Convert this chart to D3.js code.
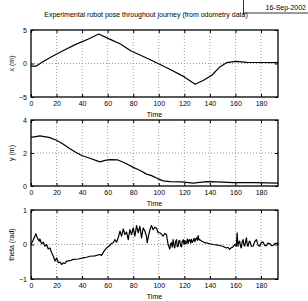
<!DOCTYPE html>
<html>
<head>
<meta charset="utf-8">
<script src="https://cdn.jsdelivr.net/npm/d3@7"></script>
<style>
  body { margin: 0; background: #fff; }
  text { font-family: "Liberation Sans", Arial, sans-serif; fill: #000; }
</style>
</head>
<body>
<script>
// time axis shared by all three panels
const timeTicks = [0, 20, 40, 60, 80, 100, 120, 140, 160, 180];
const timeMax = 193.3;

// x (m) against time
const timeX = [0, 4, 8, 15, 25, 35, 45, 53, 62, 70, 78, 93, 109, 120, 128.5, 135, 141.5, 148, 153, 160.5, 169, 180, 193.5];
const poseX = [-0.4, -0.4, 0.1, 0.9, 1.9, 2.85, 3.65, 4.4, 3.6, 2.9, 1.9, 0.6, -0.9, -2.0, -3.1, -2.5, -1.75, -0.47, 0.12, 0.33, 0.18, 0.15, 0.12];
const ticksX = [-5, 0, 5];

// y (m) against time
const timeY = [0, 7, 14, 20, 25, 30.5, 35, 39.7, 46, 54, 58, 62, 68, 74, 80, 85, 90.5, 94.4, 99, 103.5, 108.8, 118, 127, 132, 137.5, 145.3, 158, 175, 193.5];
const poseY = [2.95, 3.04, 2.95, 2.77, 2.55, 2.26, 2.05, 1.85, 1.68, 1.46, 1.55, 1.6, 1.58, 1.38, 1.13, 0.95, 0.72, 0.63, 0.45, 0.31, 0.27, 0.25, 0.18, 0.22, 0.27, 0.25, 0.2, 0.2, 0.18];
const ticksY = [0, 2, 4];

const timeTheta = [0, 1.8, 3.9, 4.9, 6.5, 7.0, 8.3, 9.6, 10.9, 12.2, 13.5, 14.8, 16.2, 17.5, 18.8, 20.1, 21.4, 22.7, 24.0, 25.3, 26.6, 27.9, 30.5, 33.1, 37, 40.9, 43.5, 46.1, 50, 53.9, 55.2, 57, 59.1, 61, 63.0, 64.3, 65.7, 67.0, 68.3, 69.6, 70.9, 72.2, 73.5, 74.8, 76.1, 77.4, 78.7, 80.0, 81.3, 82.6, 83.9, 85.2, 86.5, 87.8, 89.1, 90.4, 90.9, 92.2, 93.3, 94.3, 95.6, 96.9, 98.2, 99.5, 100.8, 102.1, 103.4, 104.7, 106.0, 107.3,
  108.6, 109.3, 109.9, 110.5, 111.2, 111.8, 112.5, 113.1, 113.8, 114.5, 115.2, 115.8, 116.5, 117.1, 117.8, 118.4, 119.1, 119.8, 120.4, 121.1, 121.7, 122.4, 123.0, 123.7, 124.3, 125.0, 125.6, 126.3, 126.9, 127.6, 128.2, 128.9, 129.5, 130.2, 130.8, 131.5, 132.1, 133.4, 134.7, 136, 137.3, 140, 142.5, 145, 147.7, 150, 152.9, 154.2, 155.5, 156.8, 158.1, 159.4, 160.7, 161.3, 162.0, 162.6, 163.3, 164.0, 164.6, 165.3, 166.0, 166.6, 167.3, 168.0, 168.6, 169.3, 169.9, 170.6, 171.2, 172.5, 173.8, 175.1, 176.4, 177.7, 179.0, 180.3, 181.6, 182.9, 184.2, 185.5, 186.8, 188.1, 189.4, 191, 193.8];
const theta = [0, 0.14, 0.31, 0.19, 0.10, 0.16, 0.02, 0.07, -0.05, 0, -0.13, -0.10, -0.24, -0.34, -0.48, -0.39, -0.53, -0.51, -0.58, -0.53, -0.55, -0.48, -0.47, -0.43, -0.42, -0.39, -0.37, -0.34, -0.33, -0.29, -0.32, -0.2, -0.10, -0.05, 0.03, 0.05, 0.14, 0.07, 0.2, 0.39, 0.24, 0.45, 0.29, 0.36, 0.14, 0.43, 0.29, 0.48, 0.24, 0.55, 0.34, 0.53, 0.19, 0.48, 0.39, 0.24, 0.05, 0.29, 0.45, 0.55, 0.43, 0.5, 0.48, 0.34, 0.34, 0.3, 0.24, 0.32, 0.29, 0,
  -0.13, 0.02, 0.05, -0.08, 0.14, -0.02, -0.10, 0.08, 0.14, -0.06, -0.05, 0.12, 0.10, -0.04, -0.07, 0.09, 0.14, 0.0, 0.12, 0.02, 0.05, 0.16, 0.03, 0.13, 0.14, 0.04, 0.15, 0.06, 0.10, 0.18, 0.08, 0.16, 0.19, 0.12, 0.26, 0.13, 0.14, 0.10, 0.08, 0.05, 0.05, 0.02, 0, -0.01, -0.03, -0.05, -0.10, -0.08, -0.14, -0.09, -0.07, 0, -0.05, 0.34, -0.05, 0.06, 0.10, -0.06, -0.10, 0.08, 0.14, -0.02, -0.05, 0.10, 0.19, -0.03, -0.05, 0.07, 0.10, -0.05, -0.05, 0.08, 0.14, -0.02, -0.05, 0.06, 0.07, -0.03, -0.03, 0.04, 0.03, -0.03, -0.03, 0.03, 0.03];
const ticksTheta = [-1, 0, 1];

const titleText = "Experimental robot pose throughout journey (from odometry data)";
const dateText = "16-Sep-2002";

const W = 308, H = 301;
const svg = d3.select("body").append("svg").attr("width", W).attr("height", H);

const xScale = d3.scaleLinear().domain([0, timeMax]).range([31, 278]);

let panels = [
  { t: timeX, v: poseX, ticks: ticksX, label: "x (m)", top: 30, bottom: 97 },
  { t: timeY, v: poseY, ticks: ticksY, label: "y (m)", top: 120, bottom: 186 },
  { t: timeTheta, v: theta, ticks: ticksTheta, label: "theta (rad)", top: 210, bottom: 279 }
];

function drawPanel(p) {
  let y = d3.scaleLinear().domain([p.ticks[0], p.ticks[p.ticks.length - 1]]).range([p.bottom, p.top]);
  let g = svg.append("g");

  // dotted grid
  g.selectAll(".gx").data(timeTicks.slice(1)).enter().append("line")
    .attr("x1", d => xScale(d)).attr("x2", d => xScale(d))
    .attr("y1", p.top).attr("y2", p.bottom)
    .attr("stroke", "#999").attr("stroke-width", 1).attr("stroke-dasharray", "1,2");
  g.selectAll(".gy").data(p.ticks.slice(1, -1)).enter().append("line")
    .attr("x1", xScale.range()[0]).attr("x2", xScale.range()[1])
    .attr("y1", d => y(d)).attr("y2", d => y(d))
    .attr("stroke", "#999").attr("stroke-width", 1).attr("stroke-dasharray", "1,2");

  // the data line
  let pts = p.t.map((t, i) => [t, p.v[i]]);
  g.append("path").datum(pts)
    .attr("d", d3.line().x(d => xScale(d[0])).y(d => y(d[1])))
    .attr("fill", "none").attr("stroke", "#000").attr("stroke-width", 1.2)
    .attr("stroke-linejoin", "round");

  // axes, matlab style ticks pointing in
  g.append("g").attr("transform", "translate(0," + p.bottom + ")")
    .call(d3.axisBottom(xScale).tickValues(timeTicks).tickSize(-3).tickPadding(4));
  g.append("g").attr("transform", "translate(0," + p.top + ")")
    .call(d3.axisTop(xScale).tickValues(timeTicks).tickSize(-3).tickFormat(""));
  g.append("g").attr("transform", "translate(" + xScale.range()[0] + ",0)")
    .call(d3.axisLeft(y).tickValues(p.ticks).tickSize(-3).tickPadding(4).tickFormat(d => d < 0 ? "\u2212" + Math.abs(d) : d));
  g.append("g").attr("transform", "translate(" + xScale.range()[1] + ",0)")
    .call(d3.axisRight(y).tickValues(p.ticks).tickSize(-3).tickFormat(""));
  g.selectAll(".domain").remove();
  g.selectAll(".tick line").attr("stroke", "#000");
  g.selectAll(".tick text").attr("font-size", 7).attr("font-family", "Liberation Sans, Arial, sans-serif");

  // box
  g.append("rect")
    .attr("x", xScale.range()[0]).attr("y", p.top)
    .attr("width", xScale.range()[1] - xScale.range()[0]).attr("height", p.bottom - p.top)
    .attr("fill", "none").attr("stroke", "#000").attr("stroke-width", 1.3);

  g.append("text").attr("x", (xScale.range()[0] + xScale.range()[1]) / 2).attr("y", p.bottom + 20)
    .attr("text-anchor", "middle").attr("font-size", 7).text("Time");
  g.append("text")
    .attr("transform", "translate(14," + (p.top + p.bottom) / 2 + ") rotate(-90)")
    .attr("text-anchor", "middle").attr("font-size", 7).text(p.label);
}

panels.forEach(drawPanel);

// header
svg.append("text").attr("x", 146).attr("y", 17).attr("text-anchor", "middle")
  .attr("font-size", 7).text(titleText);
svg.append("line").attr("x1", 243.5).attr("x2", 243.5).attr("y1", 0).attr("y2", 15)
  .attr("stroke", "#000").attr("stroke-width", 0.8);
svg.append("line").attr("x1", 243.5).attr("x2", W).attr("y1", 13).attr("y2", 13)
  .attr("stroke", "#000").attr("stroke-width", 0.8);
svg.append("text").attr("x", 306).attr("y", 10).attr("text-anchor", "end")
  .attr("font-size", 7).text(dateText);
</script>
</body>
</html>
